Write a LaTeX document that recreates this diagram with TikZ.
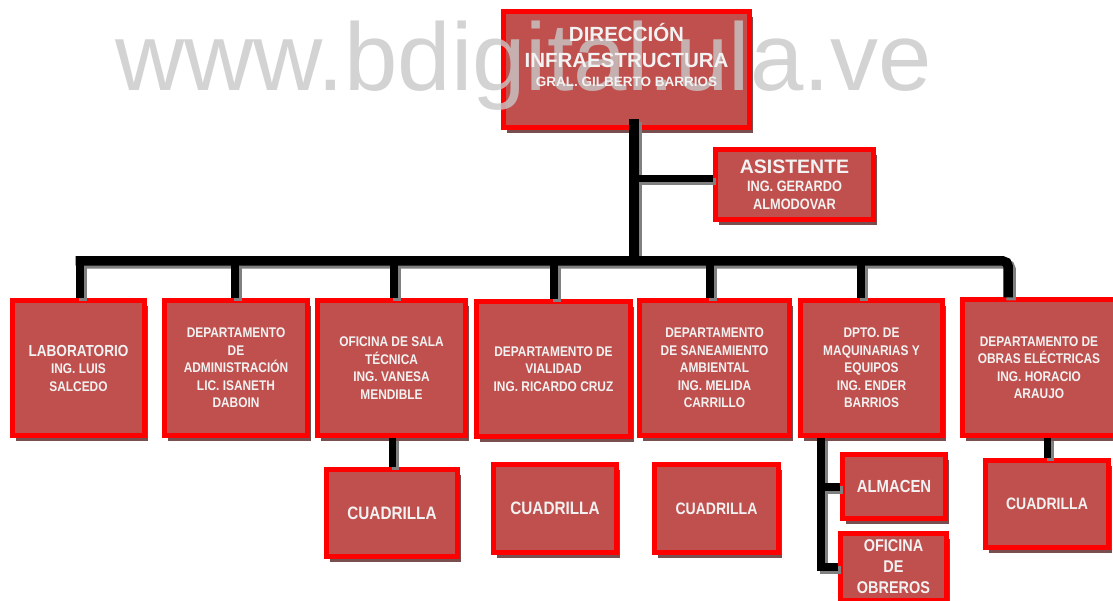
\documentclass[tikz,border=0pt]{standalone}
\usepackage{fontspec}
\setmainfont{Liberation Sans}
\newfontfamily\plainf{Liberation Sans}
\newfontfamily\condf{Liberation Sans}[FakeStretch=0.85]
\usetikzlibrary{positioning,shadows}

\definecolor{boxred}{RGB}{192,80,77}
\definecolor{boxline}{RGB}{255,0,0}
\definecolor{boxtext}{RGB}{242,242,242}
\definecolor{boxshade}{RGB}{120,78,78}
\definecolor{wireshade}{RGB}{128,128,128}
\definecolor{markgray}{RGB}{200,200,200}

\begin{document}
\begin{tikzpicture}[x=1pt,y=-1pt,
    toplabel/.style={text=boxtext,align=center,inner sep=0pt,
      font=\plainf\bfseries\fontsize{20.5}{26}\selectfont},
    rowbox/.style={minimum height=135pt,font=\condf\bfseries\fontsize{14}{17.5}\selectfont},
    crewbox/.style={font=\condf\bfseries\fontsize{16.5}{21}\selectfont}]

        \path[use as bounding box] (0,0) rectangle (1113,601);
        \clip (0,0) rectangle (1113,601);

        \begin{scope}[every node/.style={rectangle,fill=boxred,draw=boxline,line width=5pt,
            text=boxtext,align=center,inner sep=0pt,
            drop shadow={shadow xshift=3.5pt,shadow yshift=-5.5pt,fill=boxshade,opacity=1}}]
          % head
          \node[minimum width=246pt,minimum height=116pt] (dir) at (626.5,69.5) {};
          \node[minimum width=158pt,minimum height=70pt,
                font=\condf\bfseries\fontsize{15}{17.5}\selectfont] (asis) at (794.5,184.5)
                {{\plainf\bfseries\fontsize{19.5}{19}\selectfont ASISTENTE}\\[1pt]
                 ING. GERARDO\\ALMODOVAR};

          % departments
          \node[rowbox,minimum width=132pt] (lab) at (78.5,368)
                {{\fontsize{16}{17.5}\selectfont LABORATORIO}\\ING. LUIS\\SALCEDO};
          \node[rowbox,minimum width=143pt] (adm) at (236,368)
                {DEPARTAMENTO\\DE\\ADMINISTRACIÓN\\LIC. ISANETH\\DABOIN};
          \node[rowbox,minimum width=148pt] (ofi) at (391.5,368)
                {OFICINA DE SALA\\TÉCNICA\\ING. VANESA\\MENDIBLE};
          \node[rowbox,minimum width=154pt] (via) at (553.5,369)
                {DEPARTAMENTO DE\\VIALIDAD\\ING. RICARDO CRUZ};
          \node[rowbox,minimum width=150pt] (san) at (714.5,368)
                {DEPARTAMENTO\\DE SANEAMIENTO\\AMBIENTAL\\ING. MELIDA\\CARRILLO};
          \node[rowbox,minimum width=142pt] (maq) at (871.5,368)
                {DPTO. DE\\MAQUINARIAS Y\\EQUIPOS\\ING. ENDER\\BARRIOS};
          \node[rowbox,minimum width=153pt] (obr) at (1039,367.5)
                {DEPARTAMENTO DE\\OBRAS ELÉCTRICAS\\ING. HORACIO\\ARAUJO};

          % crews
          \node[crewbox,minimum width=131pt,minimum height=87pt,
                font=\condf\bfseries\fontsize{18}{21}\selectfont] (cq1) at (392,513) {CUADRILLA};
          \node[crewbox,minimum width=123pt,minimum height=88pt,
                font=\condf\bfseries\fontsize{18}{21}\selectfont] (cq2) at (555,508.5) {CUADRILLA};
          \node[crewbox,minimum width=124pt,minimum height=88pt] (cq3) at (716.5,508.5) {CUADRILLA};
          \node[crewbox,minimum width=103pt,minimum height=64pt,
                font=\condf\bfseries\fontsize{17.5}{21}\selectfont] (alm) at (894,486.5) {ALMACEN};
          \node[crewbox,minimum width=106pt,minimum height=67pt,
                font=\condf\bfseries\fontsize{17}{21}\selectfont] (obre) at (893.5,567) {OFICINA\\DE\\OBREROS};
          \node[crewbox,minimum width=123pt,minimum height=87pt] (cq4) at (1047,504) {CUADRILLA};
        \end{scope}

        % watermark
        \node[anchor=base west,inner sep=0pt,text=markgray,text opacity=0.8,
              font=\plainf\fontsize{96}{96}\selectfont] (mark) at (115,91) {www.bdigital.ula.ve};

        \node[toplabel,below=14pt of dir.north] (dirlbl)
              {DIRECCIÓN\\INFRAESTRUCTURA\\[-6.5pt]{\fontsize{13.5}{19}\selectfont GRAL. GILBERTO BARRIOS}};

        % connectors
        \coordinate (ttop) at (634,119);
        \coordinate (tasis) at (634,178.5);
        \coordinate (tbus) at (634,261);
        \coordinate (mqx) at (821,440);
        \foreach \n/\x in {lab/80,adm/235,ofi/394,via/554,san/710,maq/861,obr/1008}
          \coordinate (d\n) at (\x,261);

        \foreach \c/\d in {wireshade/3,black/0} {
          \begin{scope}[color=\c,transform canvas={xshift=\d pt,yshift=-\d pt}]
            \draw[line width=9.5pt] (ttop) -- (tbus);
            \draw[line width=7pt] (tasis) -- (tasis -| asis.west);
            \draw[line width=9.5pt,rounded corners=5pt] ([xshift=-4.5pt]dlab) -- (dobr) -- (dobr |- obr.north);
            \foreach \n in {lab,adm,ofi,via,san,maq}
              \draw[line width=8pt] (d\n) -- (d\n |- \n.north);
            \draw[line width=7pt] (cq1.north |- ofi.south) -- (cq1.north);
            \draw[line width=7pt] (cq4.north |- obr.south) -- (cq4.north);
            \draw[line width=8pt] (mqx |- maq.south) -- (mqx |- obre.west) -- (obre.west);
            \draw[line width=8pt] (mqx |- alm.west) -- (alm.west);
          \end{scope}
        }

      \end{tikzpicture}
\end{document}
